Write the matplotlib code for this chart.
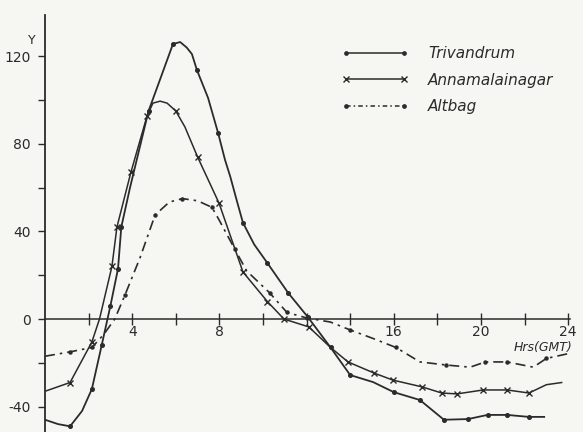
import matplotlib.pyplot as plt
from matplotlib.lines import Line2D

# hours (GMT) and Y values
triv_x = [0, 0.6, 1.15, 1.7, 2.15, 2.6, 3.0, 3.35, 3.5, 3.9, 4.75, 5.3, 5.87, 6.2, 6.5, 6.74,
          6.97, 7.48, 7.94, 8.26, 8.5, 8.8, 9.08, 9.6, 10.2, 11.15, 12.05, 13.1, 14.0, 15.05,
          16.0, 17.2, 18.3, 19.4, 20.3, 21.2, 22.2, 22.9]
triv_y = [-46, -48, -49, -42, -32, -12, 6, 23, 42, 60, 95, 110, 125.6, 126.5, 124, 121,
          113.7, 101, 85, 72.6, 65, 54, 44, 34, 25.6, 12, 1, -13, -25.6, -28.8,
          -33.4, -37, -46, -45.7, -43.8, -43.8, -44.7, -44.7]
triv_marks = [2, 4, 5, 6, 7, 8, 10, 12, 16, 18, 22, 24, 25, 26, 27, 28, 30, 31, 32, 33, 34,
              35, 36]

anna_x = [0, 1.15, 2.15, 2.5, 3.07, 3.3, 3.94, 4.68, 4.95, 5.28, 5.6, 6.0, 6.42, 7.0, 7.98,
          9.08, 10.2, 10.96, 12.1, 13.1, 13.9, 15.1, 15.96, 17.3, 18.2, 18.9, 20.1, 21.2,
          22.2, 23.0, 23.7]
anna_y = [-33, -29, -10.5, 0, 24, 42, 67, 92.7, 98.6, 99.5, 98.6, 95, 87.7, 74, 53,
          21.5, 8, 0, -3.6, -13, -19.6, -24.7, -27.9, -31, -33.8, -34.2, -32.4, -32.4,
          -33.8, -30, -29]
anna_marks = [1, 2, 4, 5, 6, 7, 11, 13, 14, 15, 16, 17, 18, 20, 21, 22, 23, 24, 25, 26,
              27, 28]

alt_x = [0, 1.15, 2.15, 2.7, 3.2, 3.67, 4.36, 5.05, 5.7, 6.3, 7.0, 7.66, 8.0, 8.7, 9.25,
         10.3, 11.1, 12.0, 13.1, 14.0, 15.0, 16.1, 17.2, 18.4, 19.5, 20.2, 21.2, 22.4, 23.0, 24.1]
alt_y = [-17, -15, -13, -7, 0, 11, 28, 47.5, 53.4, 55, 54, 51, 45, 32, 22,
         12, 3, 0.5, -1.4, -5, -8.7, -13, -19.6, -21, -22, -19.6, -19.6, -22, -18, -15.6]
alt_marks = [1, 2, 5, 7, 9, 11, 13, 15, 16, 17, 19, 21, 23, 25, 26, 28]

labels = ["Trivandrum", "Annamalainagar", "Altbag"]
xtick_vals = list(range(2, 25, 2))
xtick_text = {4: "4", 8: "8", 16: "16", 20: "20", 24: "24"}
ytick_vals = list(range(-40, 121, 20))

ink = '#2b2b2b'
paper = '#f6f6f3'

fig = plt.figure(figsize=(5.83, 4.32), dpi=100, facecolor=paper)
ax = fig.add_axes([45 / 583, 0, 538 / 583, 1])
ax.set_facecolor(paper)

ax.plot(triv_x, triv_y, color=ink, lw=1.3, marker='o', ms=2.6,
        markevery=triv_marks, zorder=3)
ax.plot(anna_x, anna_y, color=ink, lw=1.1, marker='x', ms=5, mew=1.0,
        markevery=anna_marks, zorder=3)
ax.plot(alt_x, alt_y, color=ink, lw=1.2, ls=(0, (6, 3, 1.5, 3)), marker='o', ms=2.2,
        markevery=alt_marks, zorder=3)

ax.set_xlim(0, 24.68)
ax.set_ylim(-51.6, 145.7)

for s in ['top', 'right']:
    ax.spines[s].set_visible(False)
ax.spines['left'].set_bounds(-52, 139)
ax.spines['left'].set_color(ink)
ax.spines['left'].set_linewidth(1.3)
ax.spines['bottom'].set_position(('data', 0))
ax.spines['bottom'].set_bounds(0, 24.1)
ax.spines['bottom'].set_color(ink)
ax.spines['bottom'].set_linewidth(1.1)

ax.set_xticks(xtick_vals)
ax.set_xticklabels([xtick_text.get(v, "") for v in xtick_vals])
ax.tick_params(axis='x', direction='inout', length=8, width=1.0, color=ink,
               labelsize=10, labelcolor=ink, pad=0)
ax.set_yticks(ytick_vals)
ax.set_yticklabels([str(v) if v % 40 == 0 else "" for v in ytick_vals])
ax.tick_params(axis='y', direction='out', length=5, width=1.0, color=ink,
               labelsize=10, labelcolor=ink, pad=5)

ax.text(-0.6, 127, "Y", fontsize=9, color=ink, ha='center', va='center', clip_on=False)
ax.text(21.5, -13, "Hrs(GMT)", fontsize=9, style='italic', color=ink, ha='left', va='center',
        clip_on=False)

handles = [
    Line2D([], [], color=ink, lw=1.1, marker='o', ms=2.4),
    Line2D([], [], color=ink, lw=1.1, marker='x', ms=4.5),
    Line2D([], [], color=ink, lw=1.1, ls=(0, (3, 2, 1, 2)), marker='o', ms=2.4),
]
leg = ax.legend(handles, labels, loc='upper left', bbox_to_anchor=(0.525, 0.925),
                frameon=False, numpoints=2, handlelength=4.4, handletextpad=1.3,
                labelspacing=0.75, prop={'size': 11, 'style': 'italic'})
for t in leg.get_texts():
    t.set_color(ink)

plt.savefig("out.png", dpi=100, facecolor=paper)
